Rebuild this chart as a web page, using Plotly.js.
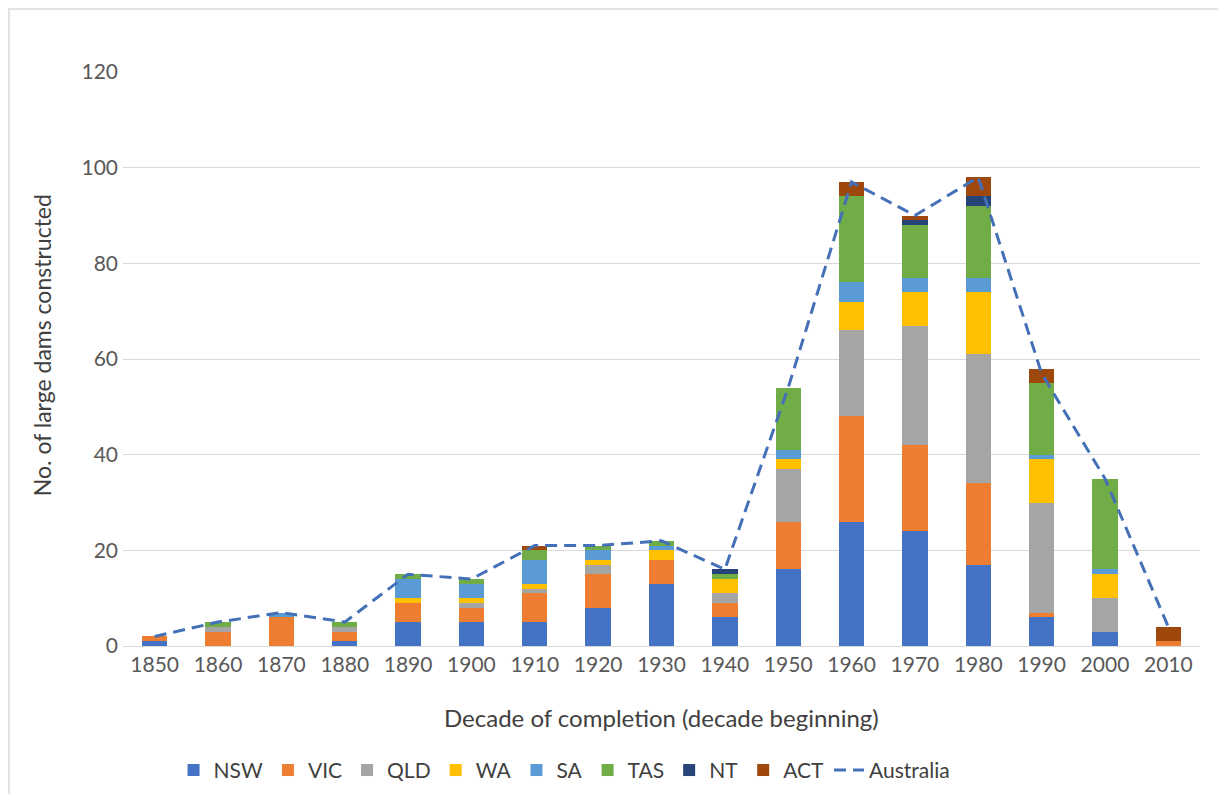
<!DOCTYPE html>
<html>
<head>
<meta charset="utf-8">
<script src="https://cdn.plot.ly/plotly-3.0.1.min.js"></script>
<style>
html,body{margin:0;padding:0;background:#fff;}
#frame{position:absolute;left:8px;top:8px;width:1230px;height:820px;border-left:2px solid #e3e3e3;border-top:2px solid #e3e3e3;}
#chart{position:absolute;left:0;top:0;width:1218px;height:794px;}
</style>
</head>
<body>
<div id="frame"></div>
<div id="chart"></div>
<script>
const decades = ['1850','1860','1870','1880','1890','1900','1910','1920','1930','1940','1950','1960','1970','1980','1990','2000','2010'];
const NSW = [1,0,0,1,5,5,5,8,13,6,16,26,24,17,6,3,0];
const VIC = [1,3,6,2,4,3,6,7,5,3,10,22,18,17,1,0,1];
const QLD = [0,1,0,1,0,1,1,2,0,2,11,18,25,27,23,7,0];
const WA  = [0,0,0,0,1,1,1,1,2,3,2,6,7,13,9,5,0];
const SA  = [0,0,1,0,4,3,5,2,1,0,2,4,3,3,1,1,0];
const TAS = [0,1,0,1,1,1,2,1,1,1,13,18,11,15,15,19,0];
const NT  = [0,0,0,0,0,0,0,0,0,1,0,0,1,2,0,0,0];
const ACT = [0,0,0,0,0,0,1,0,0,0,0,3,1,4,3,0,3];
const Australia = [2,5,7,5,15,14,21,21,22,16,54,97,90,98,57,35,4];

const seriesNames = ['NSW','VIC','QLD','WA','SA','TAS','NT','ACT'];
const seriesVals = [NSW,VIC,QLD,WA,SA,TAS,NT,ACT];
const colors = ['#4472C4','#ED7D31','#A5A5A5','#FFC000','#5B9BD5','#70AD47','#264478','#9E480E'];

const xTitle = 'Decade of completion (decade beginning)';
const yTitle = 'No. of large dams constructed';

const FONT = 'Lato, "Open Sans", sans-serif';

const traces = seriesNames.map((n,i)=>({
  type:'bar', name:n, x:decades, y:seriesVals[i],
  marker:{color:colors[i], line:{width:0}},
  hoverinfo:'name+y'
}));
traces.push({
  type:'scatter', mode:'lines', name:'Australia', x:decades, y:Australia,
  line:{color:'#4470B8', width:3, dash:'12px,7px'}
});

const layout = {
  width:1218, height:794,
  margin:{l:123, r:18, t:72, b:148, autoexpand:false},
  paper_bgcolor:'rgba(0,0,0,0)', plot_bgcolor:'rgba(0,0,0,0)',
  barmode:'stack', bargap:0.6,
  font:{family:FONT, color:'#595959', size:21},
  xaxis:{
    type:'category', showgrid:false, showline:true, linecolor:'#d9d9d9', linewidth:1,
    ticks:'', tickfont:{family:FONT, size:21, color:'#595959'},
    zeroline:false, automargin:false
  },
  yaxis:{
    range:[0,120], dtick:20, showgrid:true, gridcolor:'#d9d9d9', gridwidth:1,
    zeroline:false, showline:false, ticks:'', ticklen:0, ticklabelstandoff:4,
    tickfont:{family:FONT, size:21, color:'#595959'}, automargin:false
  },
  annotations:[
    {text:xTitle, xref:'paper', yref:'paper', x:0.5, y:-0.1254, xanchor:'center', yanchor:'middle',
     showarrow:false, font:{family:FONT, size:24, color:'#404040'}},
    {text:yTitle, xref:'paper', yref:'paper', x:-0.0753, y:0.524, xanchor:'center', yanchor:'middle',
     textangle:-90, showarrow:false, font:{family:FONT, size:23, color:'#404040'}}
  ],
  legend:{
    orientation:'h', x:0.41, xanchor:'center', y:-0.181, yanchor:'top',
    font:{family:FONT, size:21, color:'#404040'}, traceorder:'normal',
    itemwidth:30, bgcolor:'rgba(0,0,0,0)'
  },
  showlegend:true
};

Plotly.newPlot('chart', traces, layout, {displayModeBar:false, staticPlot:true});
</script>
</body>
</html>
